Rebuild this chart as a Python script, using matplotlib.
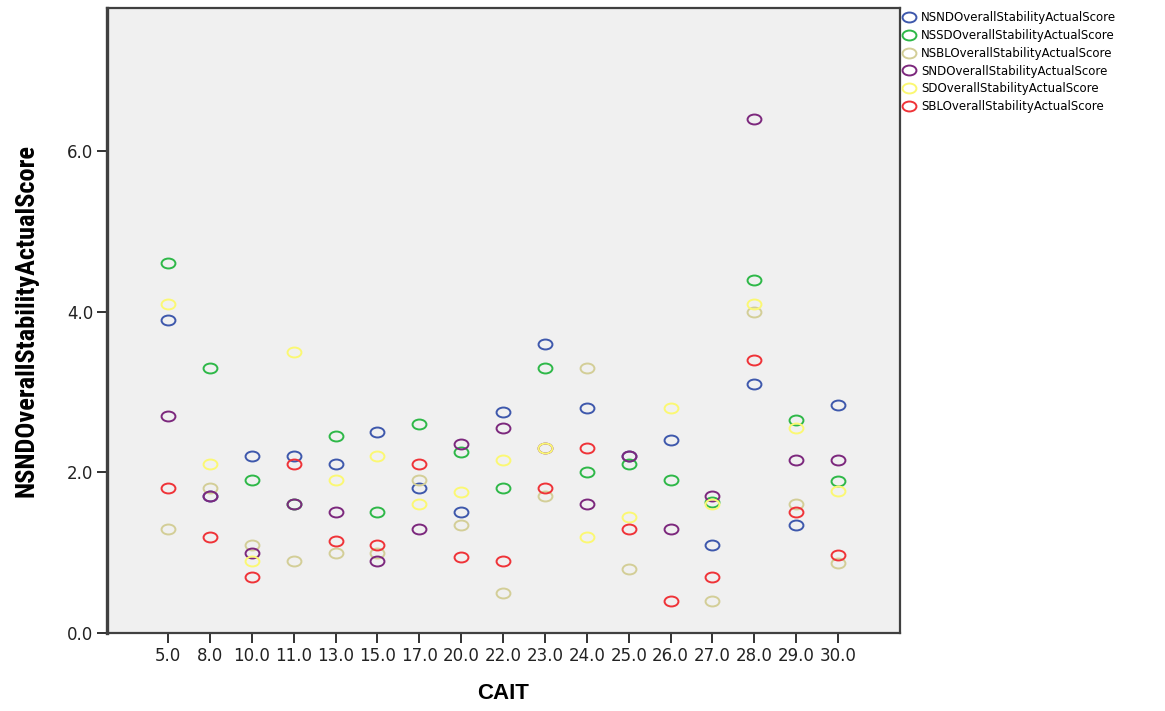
import numpy as np
import matplotlib
matplotlib.use('Agg')
import matplotlib.pyplot as plt
from matplotlib.path import Path
from matplotlib.transforms import Affine2D

# CAIT categories on the x axis
cait = ['5.0', '8.0', '10.0', '11.0', '13.0', '15.0', '17.0', '20.0', '22.0',
        '23.0', '24.0', '25.0', '26.0', '27.0', '28.0', '29.0', '30.0']

nsnd = [3.9, 1.7, 2.2, 2.2, 2.1, 2.5, 1.8, 1.5, 2.75, 3.6, 2.8, 2.2, 2.4, 1.1, 3.1, 1.35, 2.84]
nssd = [4.6, 3.3, 1.9, 1.6, 2.45, 1.5, 2.6, 2.25, 1.8, 3.3, 2.0, 2.1, 1.9, 1.63, 4.4, 2.65, 1.89]
nsbl = [1.3, 1.8, 1.1, 0.9, 1.0, 1.0, 1.9, 1.35, 0.5, 1.7, 3.3, 0.8, np.nan, 0.4, 4.0, 1.6, 0.87]
snd = [2.7, 1.7, 1.0, 1.6, 1.5, 0.9, 1.3, 2.35, 2.55, 2.3, 1.6, 2.2, 1.3, 1.71, 6.4, 2.15, 2.15]
sd = [4.1, 2.1, 0.9, 3.5, 1.9, 2.2, 1.6, 1.75, 2.15, 2.3, 1.2, 1.44, 2.8, 1.6, 4.1, 2.55, 1.77]
sbl = [1.8, 1.2, 0.7, 2.1, 1.15, 1.1, 2.1, 0.95, 0.9, 1.8, 2.3, 1.3, 0.4, 0.7, 3.4, 1.5, 0.97]

series_names = ['NSNDOverallStabilityActualScore', 'NSSDOverallStabilityActualScore',
                'NSBLOverallStabilityActualScore', 'SNDOverallStabilityActualScore',
                'SDOverallStabilityActualScore', 'SBLOverallStabilityActualScore']
series_colors = ['#3E58AC', '#2EB848', '#D3CE97', '#7C287D', '#FBF873', '#EF3338']


def main():
    series = [nsnd, nssd, nsbl, snd, sd, sbl]
    x = np.arange(len(cait))

    # slightly wide open ellipse like the SPSS output
    ring = Path.unit_circle().transformed(Affine2D().scale(1.4, 1.0))

    fig = plt.figure(figsize=(11.65, 7.11), dpi=100)
    ax = fig.add_axes([107/1165, 78/711, 793/1165, 625/711])
    ax.set_facecolor('#F0F0F0')

    for name, vals, col in zip(series_names, series, series_colors):
        ax.plot(x, vals, linestyle='none', marker=ring, ms=10, mfc='none',
                mec=col, mew=1.4, label=name)

    ax.set_xlim(-1.46, 17.48)
    ax.set_ylim(0, 7.78)
    ax.set_xticks(x)
    ax.set_xticklabels(cait)
    ax.set_yticks([0, 2, 4, 6])
    ax.set_yticklabels(['0.0', '2.0', '4.0', '6.0'])
    ax.tick_params(axis='both', direction='out', length=7, width=1.3,
                   labelsize=12, colors='#222222', pad=3)

    for sp in ax.spines.values():
        sp.set_color('#404040')
        sp.set_linewidth(1.6)
    ax.spines['left'].set_linewidth(2.4)

    ax.set_xlabel('CAIT', fontsize=16, fontweight='bold', va='center',
                  family=['Liberation Sans', 'DejaVu Sans'])
    ax.xaxis.set_label_coords(0.5, -0.097)
    ax.set_ylabel('NSNDOverallStabilityActualScore', fontsize=19, fontweight='bold',
                  va='center', family=['Roboto Condensed', 'Liberation Sans', 'DejaVu Sans'])
    ax.yaxis.set_label_coords(-0.101, 0.5)

    fig.legend(loc='upper left', bbox_to_anchor=(901/1165, 1 - 9/711), frameon=False,
               fontsize=8.5, handlelength=1.0, handletextpad=0.5, labelspacing=0.4,
               borderaxespad=0, borderpad=0.2)

    fig.savefig('out.png', dpi=100)


if __name__ == '__main__':
    main()
